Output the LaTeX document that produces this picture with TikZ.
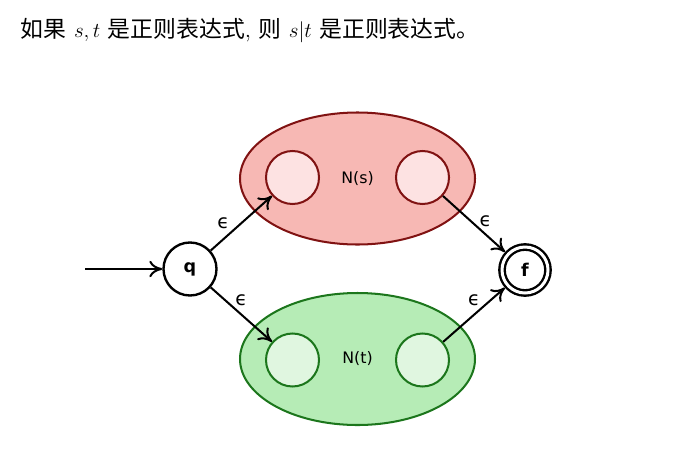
\documentclass[tikz,border=0pt]{standalone}
\usepackage{fontspec}
\newfontfamily\cjk{Noto Sans CJK SC}
\newfontfamily\dejavu{DejaVu Sans}
\usetikzlibrary{arrows.meta,shapes.geometric}
\definecolor{redfill}{RGB}{247,184,180}
\definecolor{redin}{RGB}{253,226,226}
\definecolor{redline}{RGB}{128,18,18}
\definecolor{greenfill}{RGB}{182,236,182}
\definecolor{greenin}{RGB}{224,246,224}
\definecolor{greenline}{RGB}{28,118,28}

\begin{document}
\begin{tikzpicture}[font=\dejavu\fontsize{9pt}{11pt}\selectfont,>={To[length=2.6mm,width=3.3mm]},line width=1.15pt,
  blob/.style={draw,ellipse,minimum width=4.7cm,minimum height=2.64cm},
  sub/.style={draw,circle,minimum size=1.06cm},
  stat/.style={draw,circle,minimum size=1.06cm,line width=1.35pt,font=\dejavu\bfseries\fontsize{10pt}{12pt}\selectfont},
  eps/.style={font=\dejavu\fontsize{11pt}{13pt}\selectfont}]
  \useasboundingbox (0,0) rectangle (13.78,9.2);
  \node[anchor=west,font=\rmfamily\fontsize{13pt}{16pt}\selectfont] (title) at (0.28,8.58)
    {{\cjk 如果} $s, t$ {\cjk 是正则表达式}, {\cjk 则} $s|t$ {\cjk 是正则表达式。}};
  % N(s)
  \node[blob,draw=redline,fill=redfill] (Ns) at (7.15,5.63) {N(s)};
  \node[sub,draw=redline,fill=redin] (Ls) at (5.85,5.65) {};
  \node[sub,draw=redline,fill=redin] (Rs) at (8.45,5.65) {};
  % N(t)
  \node[blob,draw=greenline,fill=greenfill] (Nt) at (7.15,2.02) {N(t)};
  \node[sub,draw=greenline,fill=greenin] (Lt) at (5.85,2.0) {};
  \node[sub,draw=greenline,fill=greenin] (Rt) at (8.45,2.0) {};
  % start and final
  \node[stat] (q) at (3.8,3.82) {q};
  \node[stat,double,double distance=1.7pt,minimum size=0.92cm,outer sep=2.2pt] (f) at (10.5,3.8) {f};
  \coordinate (entry) at (1.7,3.82);
  \draw[->] (entry) -- (q);
  \draw[->] (q) -- (Ls) node[eps,pos=.5,left=3pt] {ϵ};
  \draw[->] (q) -- (Lt) node[eps,pos=.5,above=1pt] {ϵ};
  \draw[->] (Rs) -- (f) node[eps,pos=.45,right=1pt] {ϵ};
  \draw[->] (Rt) -- (f) node[eps,pos=.5,above=1pt] {ϵ};
\end{tikzpicture}
\end{document}
